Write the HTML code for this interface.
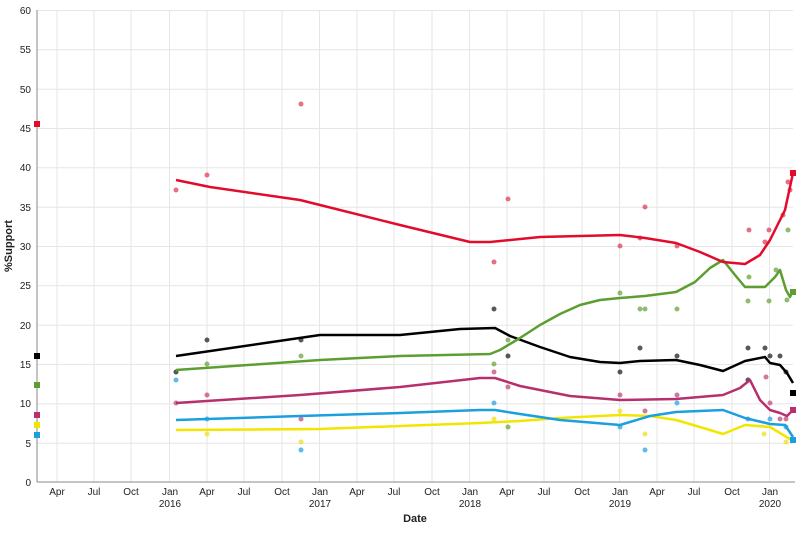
<!DOCTYPE html><html><head><style>body{margin:0;background:#fff}svg{font-family:"Liberation Sans",sans-serif}</style></head><body>
<svg width="800" height="528" xmlns="http://www.w3.org/2000/svg">
<g stroke="#e6e6e6" stroke-width="1">
<line x1="37" x2="793" y1="10.5" y2="10.5"/><line x1="37" x2="793" y1="49.8" y2="49.8"/><line x1="37" x2="793" y1="89.2" y2="89.2"/><line x1="37" x2="793" y1="128.5" y2="128.5"/><line x1="37" x2="793" y1="167.8" y2="167.8"/><line x1="37" x2="793" y1="207.2" y2="207.2"/><line x1="37" x2="793" y1="246.5" y2="246.5"/><line x1="37" x2="793" y1="285.8" y2="285.8"/><line x1="37" x2="793" y1="325.2" y2="325.2"/><line x1="37" x2="793" y1="364.5" y2="364.5"/><line x1="37" x2="793" y1="403.8" y2="403.8"/><line x1="37" x2="793" y1="443.2" y2="443.2"/>
<line x1="57" x2="57" y1="10" y2="482"/><line x1="94" x2="94" y1="10" y2="482"/><line x1="131" x2="131" y1="10" y2="482"/><line x1="169.5" x2="169.5" y1="10" y2="482"/><line x1="207" x2="207" y1="10" y2="482"/><line x1="244" x2="244" y1="10" y2="482"/><line x1="282" x2="282" y1="10" y2="482"/><line x1="319.5" x2="319.5" y1="10" y2="482"/><line x1="357" x2="357" y1="10" y2="482"/><line x1="394" x2="394" y1="10" y2="482"/><line x1="432" x2="432" y1="10" y2="482"/><line x1="469.5" x2="469.5" y1="10" y2="482"/><line x1="507" x2="507" y1="10" y2="482"/><line x1="544" x2="544" y1="10" y2="482"/><line x1="582" x2="582" y1="10" y2="482"/><line x1="619.5" x2="619.5" y1="10" y2="482"/><line x1="657" x2="657" y1="10" y2="482"/><line x1="694" x2="694" y1="10" y2="482"/><line x1="732" x2="732" y1="10" y2="482"/><line x1="769.5" x2="769.5" y1="10" y2="482"/>
</g>
<line x1="37" x2="37" y1="10" y2="482" stroke="#888"/><line x1="37" x2="795" y1="482" y2="482" stroke="#888"/>
<g font-size="10" fill="#222" text-anchor="end">
<text x="31" y="14">60</text><text x="31" y="53">55</text><text x="31" y="93">50</text><text x="31" y="132">45</text><text x="31" y="171">40</text><text x="31" y="211">35</text><text x="31" y="250">30</text><text x="31" y="289">25</text><text x="31" y="329">20</text><text x="31" y="368">15</text><text x="31" y="407">10</text><text x="31" y="447">5</text><text x="31" y="486">0</text>
</g>
<g font-size="10" fill="#222" text-anchor="middle">
<text x="57" y="495">Apr</text><text x="94" y="495">Jul</text><text x="131" y="495">Oct</text><text x="170" y="495">Jan</text><text x="170" y="507">2016</text><text x="207" y="495">Apr</text><text x="244" y="495">Jul</text><text x="282" y="495">Oct</text><text x="320" y="495">Jan</text><text x="320" y="507">2017</text><text x="357" y="495">Apr</text><text x="394" y="495">Jul</text><text x="432" y="495">Oct</text><text x="470" y="495">Jan</text><text x="470" y="507">2018</text><text x="507" y="495">Apr</text><text x="544" y="495">Jul</text><text x="582" y="495">Oct</text><text x="620" y="495">Jan</text><text x="620" y="507">2019</text><text x="657" y="495">Apr</text><text x="694" y="495">Jul</text><text x="732" y="495">Oct</text><text x="770" y="495">Jan</text><text x="770" y="507">2020</text>
<text x="415" y="522" font-weight="bold" font-size="11">Date</text>
<text transform="translate(12,246) rotate(-90)" font-weight="bold" font-size="11">%Support</text>
</g>
<g opacity="0.75">
<g fill="#e0405a"><circle cx="176" cy="190" r="2.5"/><circle cx="207" cy="175" r="2.5"/><circle cx="301" cy="104" r="2.5"/><circle cx="494" cy="262" r="2.5"/><circle cx="508" cy="199" r="2.5"/><circle cx="620" cy="246" r="2.5"/><circle cx="645" cy="207" r="2.5"/><circle cx="640" cy="238" r="2.5"/><circle cx="677" cy="246" r="2.5"/><circle cx="749" cy="230" r="2.5"/><circle cx="769" cy="230" r="2.5"/><circle cx="765" cy="242" r="2.5"/><circle cx="783" cy="215" r="2.5"/><circle cx="788" cy="182" r="2.5"/><circle cx="790" cy="190" r="2.5"/></g>
<g fill="#6aa640"><circle cx="176" cy="372" r="2.5"/><circle cx="207" cy="364" r="2.5"/><circle cx="301" cy="356" r="2.5"/><circle cx="494" cy="364" r="2.5"/><circle cx="508" cy="340" r="2.5"/><circle cx="620" cy="293" r="2.5"/><circle cx="645" cy="309" r="2.5"/><circle cx="640" cy="309" r="2.5"/><circle cx="677" cy="309" r="2.5"/><circle cx="749" cy="277" r="2.5"/><circle cx="748" cy="301" r="2.5"/><circle cx="769" cy="301" r="2.5"/><circle cx="776" cy="270" r="2.5"/><circle cx="788" cy="230" r="2.5"/><circle cx="787" cy="300" r="2.5"/><circle cx="508" cy="427" r="2.5"/></g>
<g fill="#222"><circle cx="176" cy="372" r="2.5"/><circle cx="207" cy="340" r="2.5"/><circle cx="301" cy="340" r="2.5"/><circle cx="494" cy="309" r="2.5"/><circle cx="508" cy="356" r="2.5"/><circle cx="620" cy="372" r="2.5"/><circle cx="640" cy="348" r="2.5"/><circle cx="677" cy="356" r="2.5"/><circle cx="748" cy="348" r="2.5"/><circle cx="748" cy="380" r="2.5"/><circle cx="765" cy="348" r="2.5"/><circle cx="770" cy="356" r="2.5"/><circle cx="780" cy="356" r="2.5"/><circle cx="786" cy="372" r="2.5"/></g>
<g fill="#c04a80"><circle cx="176" cy="403" r="2.5"/><circle cx="207" cy="395" r="2.5"/><circle cx="301" cy="419" r="2.5"/><circle cx="494" cy="372" r="2.5"/><circle cx="508" cy="387" r="2.5"/><circle cx="620" cy="395" r="2.5"/><circle cx="645" cy="411" r="2.5"/><circle cx="677" cy="395" r="2.5"/><circle cx="766" cy="377" r="2.5"/><circle cx="770" cy="403" r="2.5"/><circle cx="780" cy="419" r="2.5"/><circle cx="786" cy="419" r="2.5"/></g>
<g fill="#29a8e0"><circle cx="176" cy="380" r="2.5"/><circle cx="207" cy="419" r="2.5"/><circle cx="301" cy="450" r="2.5"/><circle cx="494" cy="403" r="2.5"/><circle cx="620" cy="427" r="2.5"/><circle cx="645" cy="450" r="2.5"/><circle cx="677" cy="403" r="2.5"/><circle cx="748" cy="419" r="2.5"/><circle cx="770" cy="419" r="2.5"/><circle cx="786" cy="427" r="2.5"/></g>
<g fill="#f0e020"><circle cx="207" cy="434" r="2.5"/><circle cx="301" cy="442" r="2.5"/><circle cx="494" cy="419" r="2.5"/><circle cx="620" cy="411" r="2.5"/><circle cx="645" cy="434" r="2.5"/><circle cx="764" cy="434" r="2.5"/><circle cx="786" cy="442" r="2.5"/></g>
</g>
<g fill="none" stroke-width="2.5" stroke-linejoin="round">
<polyline stroke="#f2e600" points="176,430 320,429 400,426 480,423 520,421 560,418 620,415 650,416 676,420 700,427 723,434 745,425 770,427 780,433 793,441"/>
<polyline stroke="#1b9fdf" points="176,420 300,416 400,413 480,410 495,410 520,414 560,420 620,425 650,416 676,412 723,410 745,418 770,424 785,425 793,437"/>
<polyline stroke="#b5306c" points="176,403 300,395 400,387 480,378 495,378 520,386 570,396 620,400 676,399 723,395 740,388 750,380 760,400 770,410 780,413 787,416 793,410"/>
<polyline stroke="#000" points="176,356 320,335 400,335 460,329 495,328 510,336 540,347 570,357 600,362 620,363 640,361 676,360 700,365 723,371 745,361 765,357 770,363 780,365 787,373 793,383"/>
<polyline stroke="#5c9e31" points="176,370 320,360 400,356 490,354 500,350 520,338 540,325 560,314 580,305 600,300 620,298 645,296 676,292 695,282 710,268 723,260 735,275 745,287 765,287 775,277 780,270 786,290 790,297 793,290"/>
<polyline stroke="#e30b2c" points="176,180 210,187 300,200 320,205 400,225 470,242 490,242 540,237 620,235 645,238 676,243 700,252 723,262 745,264 760,255 770,240 785,210 793,173"/>
</g>
<rect x="34" y="121" width="6" height="6" fill="#e30b2c"/><rect x="34" y="353" width="6" height="6" fill="#000"/><rect x="34" y="382" width="6" height="6" fill="#5c9e31"/><rect x="34" y="412" width="6" height="6" fill="#b5306c"/><rect x="34" y="422" width="6" height="6" fill="#f2e600"/><rect x="34" y="432" width="6" height="6" fill="#1b9fdf"/>
<rect x="790" y="170" width="6" height="6" fill="#e30b2c"/><rect x="790" y="289" width="6" height="6" fill="#5c9e31"/><rect x="790" y="390" width="6" height="6" fill="#000"/><rect x="790" y="407" width="6" height="6" fill="#b5306c"/><rect x="790" y="437" width="6" height="6" fill="#1b9fdf"/>
</svg></body></html>
